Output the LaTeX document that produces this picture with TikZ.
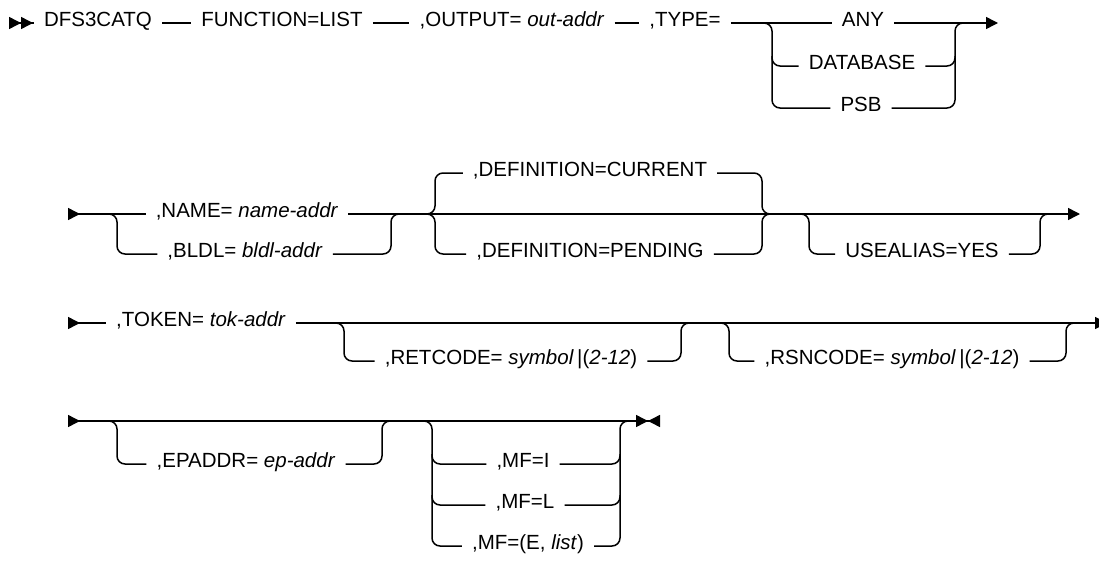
\documentclass[tikz,border=0pt]{standalone}
\usepackage{fontspec}
\setmainfont{Liberation Sans}
\usepackage{tikz}
\usetikzlibrary{arrows.meta, calc}

\begin{document}
\begin{tikzpicture}[x=1pt, y=-1pt,
    font=\fontsize{20.5}{25}\selectfont,
    rail/.style={line width=1.5pt, rounded corners=8pt},
    kw/.style={inner xsep=10pt, inner ysep=0pt, text height=1.45ex, text depth=0pt},
    firstrow/.style={arrows={Triangle[reversed,length=12pt,width=12pt]Triangle[reversed,length=12pt,width=12pt]-}},
    rowstart/.style={arrows={Triangle[reversed,length=12pt,width=12pt]-}},
    rowend/.style={arrows={-Triangle[length=12pt,width=12pt]}},
    lastrow/.style={arrows={Triangle[reversed,length=12pt,width=12pt]-Triangle[length=12pt,width=12pt]Triangle[reversed,length=12pt,width=12pt]}}]
  \useasboundingbox (0,0) rectangle (1099,562);
  % Row 1: macro name, function, output, type
  \coordinate (r1s) at (9,23);
  \node[kw] (dfs) at (98,23) {DFS3CATQ};
  \node[kw] (func) at (282,23) {FUNCTION=LIST};
  \node[kw] (out) at (512,23) {,OUTPUT= \textit{out-addr}};
  \node[kw] (type) at (685,23) {,TYPE=};
  \node[kw] (any) at (863,23) {ANY};
  \node[kw] (db) at (862,66) {DATABASE};
  \node[kw] (psb) at (861,108) {PSB};
  \coordinate (typeL) at (772,23);
  \coordinate (typeR) at (955,23);
  \coordinate (r1e) at (998,23);
  \draw[rail, firstrow] (r1s) -- (dfs);
  \draw[rail] (dfs) -- (func);
  \draw[rail] (func) -- (out);
  \draw[rail] (out) -- (type);
  \draw[rail] (type) -- (any);
  \draw[rail, rowend] (any) -- (r1e);
  \draw[rail] ([xshift=-10pt]typeL) -| (typeL |- psb) -- (psb);
  \draw[rail] ($(typeL |- db)+(0,-10)$) |- (db);
  \draw[rail] (psb) -| (typeR) -- ++(10,0);
  \draw[rail] (db) -| ($(typeR |- db)+(0,-10)$);
  % Row 2: name or bldl, definition, alias
  \coordinate (r2s) at (68,214);
  \node[kw] (name) at (247,214) {,NAME= \textit{name-addr}};
  \node[kw] (bldl) at (245,254) {,BLDL= \textit{bldl-addr}};
  \coordinate (nameL) at (117,214);
  \coordinate (nameR) at (391,214);
  \node[kw] (cur) at (590,173) {,DEFINITION=CURRENT};
  \node[kw] (pend) at (590,254) {,DEFINITION=PENDING};
  \coordinate (defL) at (435,214);
  \coordinate (defR) at (762,214);
  \node[kw] (alias) at (922,254) {USEALIAS=YES};
  \coordinate (aliasL) at (809,214);
  \coordinate (aliasR) at (1040,214);
  \coordinate (r2e) at (1080,214);
  \draw[rail, rowstart] (r2s) -- (name);
  \draw[rail, rowend] (name) -- (r2e);
  \draw[rail] ([xshift=-10pt]nameL) -| (nameL |- bldl) -- (bldl);
  \draw[rail] (bldl) -| (nameR) -- ++(10,0);
  \draw[rail] ([xshift=-10pt]defL) -| (defL |- cur) -- (cur);
  \draw[rail] ([xshift=-10pt]defL) -| (defL |- pend) -- (pend);
  \draw[rail] (cur) -| (defR) -- ++(10,0);
  \draw[rail] (pend) -| (defR) -- ++(10,0);
  \draw[rail] ([xshift=-10pt]aliasL) -| (aliasL |- alias) -- (alias);
  \draw[rail] (alias) -| (aliasR) -- ++(10,0);
  % Row 3: token, retcode, rsncode
  \coordinate (r3s) at (68,323);
  \node[kw] (tok) at (201,323) {,TOKEN= \textit{tok-addr}};
  \node[kw] (ret) at (511,361) {,RETCODE= \textit{symbol}\,|(\textit{2-12}\/)};
  \node[kw] (rsn) at (892,361) {,RSNCODE= \textit{symbol}\,|(\textit{2-12}\/)};
  \coordinate (retL) at (344,323);
  \coordinate (retR) at (681,323);
  \coordinate (rsnL) at (729,323);
  \coordinate (rsnR) at (1066,323);
  \coordinate (r3e) at (1107,323);
  \draw[rail, rowstart] (r3s) -- (tok);
  \draw[rail, rowend] (tok) -- (r3e);
  \draw[rail] ([xshift=-10pt]retL) -| (retL |- ret) -- (ret);
  \draw[rail] (ret) -| (retR) -- ++(10,0);
  \draw[rail] ([xshift=-10pt]rsnL) -| (rsnL |- rsn) -- (rsn);
  \draw[rail] (rsn) -| (rsnR) -- ++(10,0);
  % Row 4: epaddr, macro form
  \coordinate (r4s) at (68,421);
  \node[kw] (ep) at (246,464) {,EPADDR= \textit{ep-addr}};
  \coordinate (epL) at (117,421);
  \coordinate (epR) at (382,421);
  \node[kw] (mfi) at (523,464) {,MF=I};
  \node[kw] (mfl) at (525,505) {,MF=L};
  \node[kw] (mfe) at (528,546) {,MF=(E, \textit{list}\/)};
  \coordinate (mfL) at (432,421);
  \coordinate (mfR) at (620,421);
  \coordinate (r4e) at (660,421);
  \draw[rail, lastrow] (r4s) -- (r4e);
  \draw[rail] ([xshift=-10pt]epL) -| (epL |- ep) -- (ep);
  \draw[rail] (ep) -| (epR) -- ++(10,0);
  \draw[rail] ([xshift=-10pt]mfL) -| (mfL |- mfe) -- (mfe);
  \draw[rail] ($(mfL |- mfi)+(0,-10)$) |- (mfi);
  \draw[rail] ($(mfL |- mfl)+(0,-10)$) |- (mfl);
  \draw[rail] (mfe) -| (mfR) -- ++(10,0);
  \draw[rail] (mfi) -| ($(mfR |- mfi)+(0,-10)$);
  \draw[rail] (mfl) -| ($(mfR |- mfl)+(0,-10)$);
\end{tikzpicture}
\end{document}
